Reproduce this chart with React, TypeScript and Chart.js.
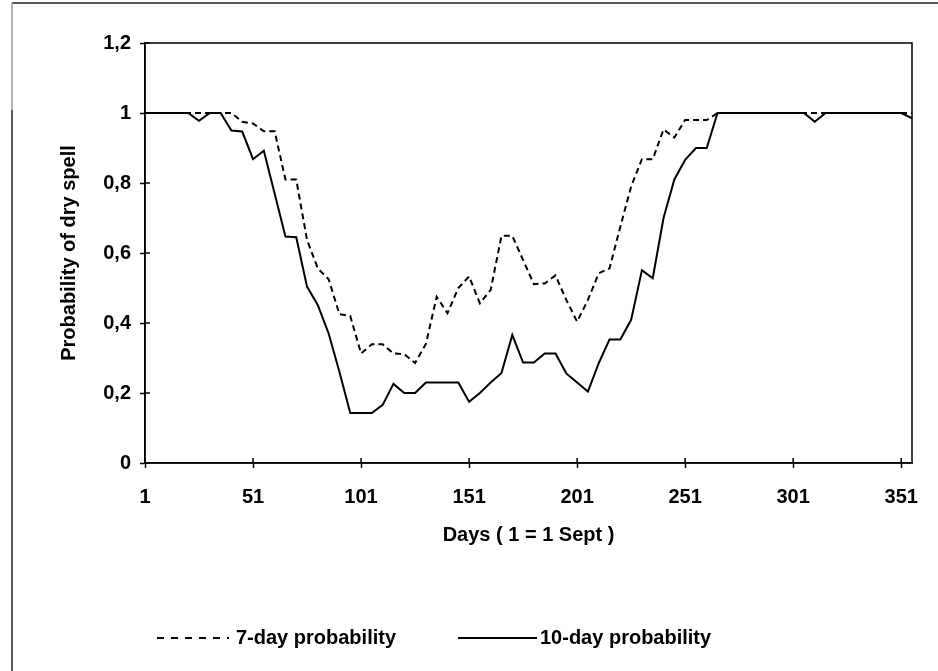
import React, { useEffect, useRef } from "react";
import { Chart, registerables } from "chart.js";

Chart.register(...registerables);

// Days sampled every 5 days (1 = 1 Sept)
const DAYS: string[] = [
  "1","6","11","16","21","26","31","36","41","46",
  "51","56","61","66","71","76","81","86","91","96",
  "101","106","111","116","121","126","131","136","141","146",
  "151","156","161","166","171","176","181","186","191","196",
  "201","206","211","216","221","226","231","236","241","246",
  "251","256","261","266","271","276","281","286","291","296",
  "301","306","311","316","321","326","331","336","341","346",
  "351","356",
];

const PROB_7DAY: number[] = [
  1, 1, 1, 1, 1, 1, 1, 1, 1, 0.975,
  0.97, 0.948, 0.948, 0.81, 0.81, 0.637, 0.556, 0.525, 0.425, 0.42,
  0.313, 0.339, 0.339, 0.313, 0.311, 0.286, 0.34, 0.475, 0.428, 0.5,
  0.533, 0.456, 0.495, 0.649, 0.649, 0.58, 0.511, 0.513, 0.536, 0.466,
  0.404, 0.466, 0.542, 0.556, 0.675, 0.79, 0.868, 0.868, 0.953, 0.93,
  0.98, 0.98, 0.98, 1, 1, 1, 1, 1, 1, 1,
  1, 1, 1, 1, 1, 1, 1, 1, 1, 1,
  1, 1,
];

const PROB_10DAY: number[] = [
  1, 1, 1, 1, 1, 0.978, 1, 1, 0.95, 0.947,
  0.868, 0.892, 0.77, 0.647, 0.645, 0.504, 0.451, 0.37, 0.26, 0.143,
  0.143, 0.143, 0.166, 0.226, 0.2, 0.2, 0.23, 0.23, 0.23, 0.23,
  0.175, 0.2, 0.23, 0.257, 0.366, 0.287, 0.287, 0.313, 0.313, 0.256,
  0.23, 0.204, 0.285, 0.353, 0.353, 0.409, 0.551, 0.528, 0.7, 0.81,
  0.866, 0.9, 0.9, 1, 1, 1, 1, 1, 1, 1,
  1, 1, 0.975, 1, 1, 1, 1, 1, 1, 1,
  1, 0.985,
];

const SERIES_NAMES = ["7-day probability", "10-day probability"];
const X_TITLE = "Days ( 1 = 1 Sept )";
const Y_TITLE = "Probability of dry spell";

const FONT = '"Liberation Sans", Arial, sans-serif';
const FONT_SIZE = 20;

const decorPlugin = {
  id: "decor",
  afterDraw(chart: any) {
    const { ctx, chartArea } = chart;
    const { left, right, top, bottom } = chartArea;
    ctx.save();
    // plot area frame
    ctx.strokeStyle = "#000";
    ctx.lineWidth = 1.5;
    ctx.setLineDash([]);
    ctx.strokeRect(left, top, right - left, bottom - top);

    // inner cross tick marks
    const ys = chart.scales.y;
    ctx.lineWidth = 1.5;
    ys.ticks.forEach((t: any) => {
      const py = ys.getPixelForValue(t.value);
      ctx.beginPath();
      ctx.moveTo(left, py);
      ctx.lineTo(left + 5, py);
      ctx.stroke();
    });
    const xs = chart.scales.x;
    xs.ticks.forEach((t: any, i: number) => {
      if (i % 10 !== 0) return;
      const px = xs.getPixelForTick(i);
      ctx.beginPath();
      ctx.moveTo(px, bottom);
      ctx.lineTo(px, bottom - 5);
      ctx.stroke();
    });

    // outer frame of the figure
    const W = chart.width;
    const H = chart.height;
    ctx.lineWidth = 1.5;
    ctx.strokeStyle = "#222";
    ctx.beginPath();
    ctx.moveTo(12, 3);
    ctx.lineTo(W, 3);
    ctx.stroke();
    ctx.strokeStyle = "#9a9a9a";
    ctx.beginPath();
    ctx.moveTo(12, 3);
    ctx.lineTo(12, 110);
    ctx.stroke();
    ctx.strokeStyle = "#222";
    ctx.beginPath();
    ctx.moveTo(12, 110);
    ctx.lineTo(12, H);
    ctx.stroke();

    // legend
    const ly = 638;
    ctx.fillStyle = "#000";
    ctx.font = `bold ${FONT_SIZE}px ${FONT}`;
    ctx.textBaseline = "middle";
    ctx.textAlign = "left";
    ctx.strokeStyle = "#000";
    ctx.lineWidth = 2;
    ctx.setLineDash([7, 7]);
    ctx.beginPath();
    ctx.moveTo(157, ly);
    ctx.lineTo(229, ly);
    ctx.stroke();
    ctx.fillText(SERIES_NAMES[0], 236, ly);
    ctx.setLineDash([]);
    ctx.beginPath();
    ctx.moveTo(458, ly);
    ctx.lineTo(537, ly);
    ctx.stroke();
    ctx.fillText(SERIES_NAMES[1], 540, ly);
    ctx.restore();
  },
};

export default function App() {
  const ref = useRef<HTMLCanvasElement | null>(null);

  useEffect(() => {
    if (!ref.current) return;
    const tickFont = { family: FONT, size: FONT_SIZE, weight: "bold" as const };
    const chart = new Chart(ref.current, {
      type: "line",
      data: {
        labels: DAYS,
        datasets: [
          {
            label: SERIES_NAMES[0],
            data: PROB_7DAY,
            borderColor: "#000",
            borderWidth: 2,
            borderDash: [6, 4],
            pointRadius: 0,
            tension: 0,
            fill: false,
          },
          {
            label: SERIES_NAMES[1],
            data: PROB_10DAY,
            borderColor: "#000",
            borderWidth: 2,
            pointRadius: 0,
            tension: 0,
            fill: false,
          },
        ],
      },
      options: {
        animation: false,
        responsive: false,
        maintainAspectRatio: false,
        layout: { padding: { top: 43, right: 26, left: 0, bottom: 0 } },
        plugins: {
          legend: { display: false },
          tooltip: { enabled: false },
        },
        scales: {
          x: {
            type: "category",
            offset: false,
            grid: {
              drawOnChartArea: false,
              drawTicks: true,
              tickLength: 5,
              tickWidth: 1.5,
              tickColor: (c: any) => (c.index % 10 === 0 ? "#000" : "rgba(0,0,0,0)"),
            },
            border: { color: "#000", width: 1.5 },
            ticks: {
              autoSkip: false,
              maxRotation: 0,
              minRotation: 0,
              padding: 17,
              color: "#000",
              font: tickFont,
              callback: (_v: any, i: number) => (i % 10 === 0 ? DAYS[i] : ""),
            },
            title: {
              display: true,
              text: X_TITLE,
              color: "#000",
              font: tickFont,
              padding: { top: 0, bottom: 124 },
            },
            afterFit: (s: any) => {
              s.height = 208;
            },
          },
          y: {
            min: 0,
            max: 1.2,
            grid: {
              drawOnChartArea: false,
              drawTicks: true,
              tickLength: 5,
              tickWidth: 1.5,
              tickColor: "#000",
            },
            border: { color: "#000", width: 1.5 },
            ticks: {
              stepSize: 0.2,
              padding: 9,
              color: "#000",
              font: tickFont,
              callback: (v: any) => {
                const r = Math.round(Number(v) * 10) / 10;
                return String(r).replace(".", ",");
              },
            },
            title: {
              display: true,
              text: Y_TITLE,
              color: "#000",
              font: tickFont,
              padding: { top: 57, bottom: 0 },
            },
            afterFit: (s: any) => {
              s.width = 145;
            },
          },
        },
      },
      plugins: [decorPlugin],
    });
    return () => chart.destroy();
  }, []);

  return (
    <div
      style={{
        position: "fixed",
        left: 0,
        top: 0,
        width: 938,
        height: 671,
        background: "#fff",
      }}
    >
      <canvas ref={ref} width={938} height={671} style={{ width: 938, height: 671, display: "block" }} />
    </div>
  );
}
